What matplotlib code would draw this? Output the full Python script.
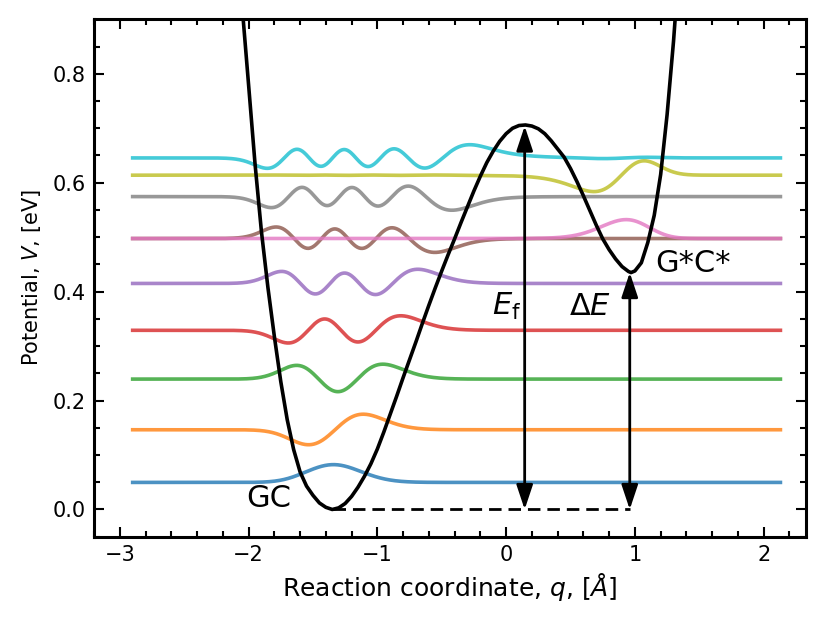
import numpy as np
import matplotlib.pyplot as plt

# potential curve, points (q in Angstrom, V in eV)
q_pot = [-2.06, -2.04, -2.00, -1.95, -1.90, -1.85, -1.80, -1.75, -1.70, -1.65,
         -1.60, -1.55, -1.50, -1.45, -1.40, -1.35, -1.30, -1.25, -1.20, -1.15,
         -1.10, -1.05, -1.00, -0.95, -0.90, -0.85, -0.80, -0.75, -0.70, -0.65,
         -0.60, -0.55, -0.50, -0.45, -0.40, -0.35, -0.30, -0.25, -0.20, -0.15,
         -0.10, -0.05, 0.00, 0.05, 0.10, 0.15, 0.20, 0.25, 0.30, 0.35,
         0.40, 0.45, 0.50, 0.55, 0.60, 0.65, 0.70, 0.75, 0.80, 0.85,
         0.90, 0.95, 0.97, 1.00, 1.05, 1.10, 1.15, 1.20, 1.25, 1.30, 1.32]
v_pot = [0.950, 0.895, 0.780, 0.635, 0.510, 0.408, 0.318, 0.235, 0.165, 0.110,
         0.069, 0.043, 0.026, 0.012, 0.004, 0.000, 0.003, 0.011, 0.024, 0.041,
         0.061, 0.084, 0.111, 0.142, 0.175, 0.208, 0.242, 0.275, 0.308, 0.342,
         0.375, 0.407, 0.438, 0.468, 0.497, 0.527, 0.556, 0.585, 0.612, 0.637,
         0.658, 0.676, 0.690, 0.700, 0.705, 0.706, 0.704, 0.699, 0.690, 0.677,
         0.662, 0.647, 0.626, 0.602, 0.576, 0.549, 0.522, 0.497, 0.477, 0.460,
         0.446, 0.437, 0.435, 0.438, 0.453, 0.490, 0.540, 0.615, 0.725, 0.860, 0.925]

# vibrational levels (eV)
levels = [0.0497, 0.1464, 0.2394, 0.329, 0.415, 0.4975, 0.4975, 0.5745, 0.6138, 0.6455]
# sign of the right-most lobe of each state
lobe_sign = [1, 1, 1, 1, 1, -1, 1, -1, 1, 1]

q_min, q_ts, q_prod = -1.346, 0.144, 0.96
V_ts, V_prod = 0.704, 0.435

hb2m = 0.00212  # hbar^2 / 2m  [eV A^2]
wf_scale = 0.02

# grid for the wavefunctions
q = np.linspace(-2.9, 2.13, 1200)
V = np.interp(q, q_pot, v_pot)
sl = (v_pot[0] - v_pot[1]) / (q_pot[1] - q_pot[0])
sr = (v_pot[-1] - v_pot[-2]) / (q_pot[-1] - q_pot[-2])
V[q < q_pot[0]] = v_pot[0] + sl * (q_pot[0] - q[q < q_pot[0]])
V[q > q_pot[-1]] = v_pot[-1] + sr * (q[q > q_pot[-1]] - q_pot[-1])
V = np.minimum(V, 4.0)

dq = q[1] - q[0]
n = len(q)
t = hb2m / dq**2
H = np.diag(V + 2 * t) - t * (np.eye(n, k=1) + np.eye(n, k=-1))
E, psi = np.linalg.eigh(H)
psi = psi / np.sqrt(dq)

fig = plt.figure(figsize=(8.3, 6.23), dpi=100)
ax = fig.add_axes([0.1133, 0.1385, 0.858, 0.8305])

for i in range(len(levels)):
    p = psi[:, i]
    big = np.where(np.abs(p) > 0.3 * np.abs(p).max())[0]
    if np.sign(p[big[-1]]) != lobe_sign[i]:
        p = -p
    ax.plot(q, levels[i] + wf_scale * p, color=plt.cm.tab10(i), lw=2.6, alpha=0.8)

ax.plot(q_pot, v_pot, color='k', lw=2.6)
ax.plot([q_min, q_prod], [0, 0], color='k', ls=(0, (4.5, 2.5)), lw=2)

arrow = dict(arrowstyle='<|-|>,head_length=0.6,head_width=0.2', color='k',
             lw=2, mutation_scale=25, shrinkA=0, shrinkB=0)
ax.annotate('', xy=(q_ts, V_ts), xytext=(q_ts, 0), arrowprops=arrow)
ax.annotate('', xy=(q_prod, V_prod), xytext=(q_prod, 0), arrowprops=arrow)

ax.text(0.0, 0.373, r'$E_\mathrm{f}$', fontsize=22, ha='center', va='center')
ax.text(0.65, 0.373, r'$\Delta E$', fontsize=22, ha='center', va='center')
ax.text(1.16, 0.452, 'G*C*', fontsize=22, ha='left', va='center')
ax.text(-1.84, 0.02, 'GC', fontsize=22, ha='center', va='center')

ax.set_xlim(-3.15, 2.33)
ax.set_ylim(-0.05, 0.9)
ax.set_xticks([-3, -2, -1, 0, 1, 2])
ax.set_xticks(np.arange(-3.2, 2.4, 0.2), minor=True)
ax.set_yticks([0.0, 0.2, 0.4, 0.6, 0.8])
ax.set_yticks(np.arange(-0.05, 0.9, 0.05), minor=True)
ax.tick_params(which='both', direction='in', top=True, right=True, labelsize=15, width=1.5)
ax.tick_params(which='major', length=7, pad=6)
ax.tick_params(which='minor', length=4.3)
for s in ax.spines.values():
    s.set_linewidth(2.2)
ax.set_xlabel(r'Reaction coordinate, $q$, [$\AA$]', fontsize=18)
ax.set_ylabel(r'Potential, $V$, [eV]', fontsize=15, labelpad=7)

fig.savefig('out.png', dpi=100)
